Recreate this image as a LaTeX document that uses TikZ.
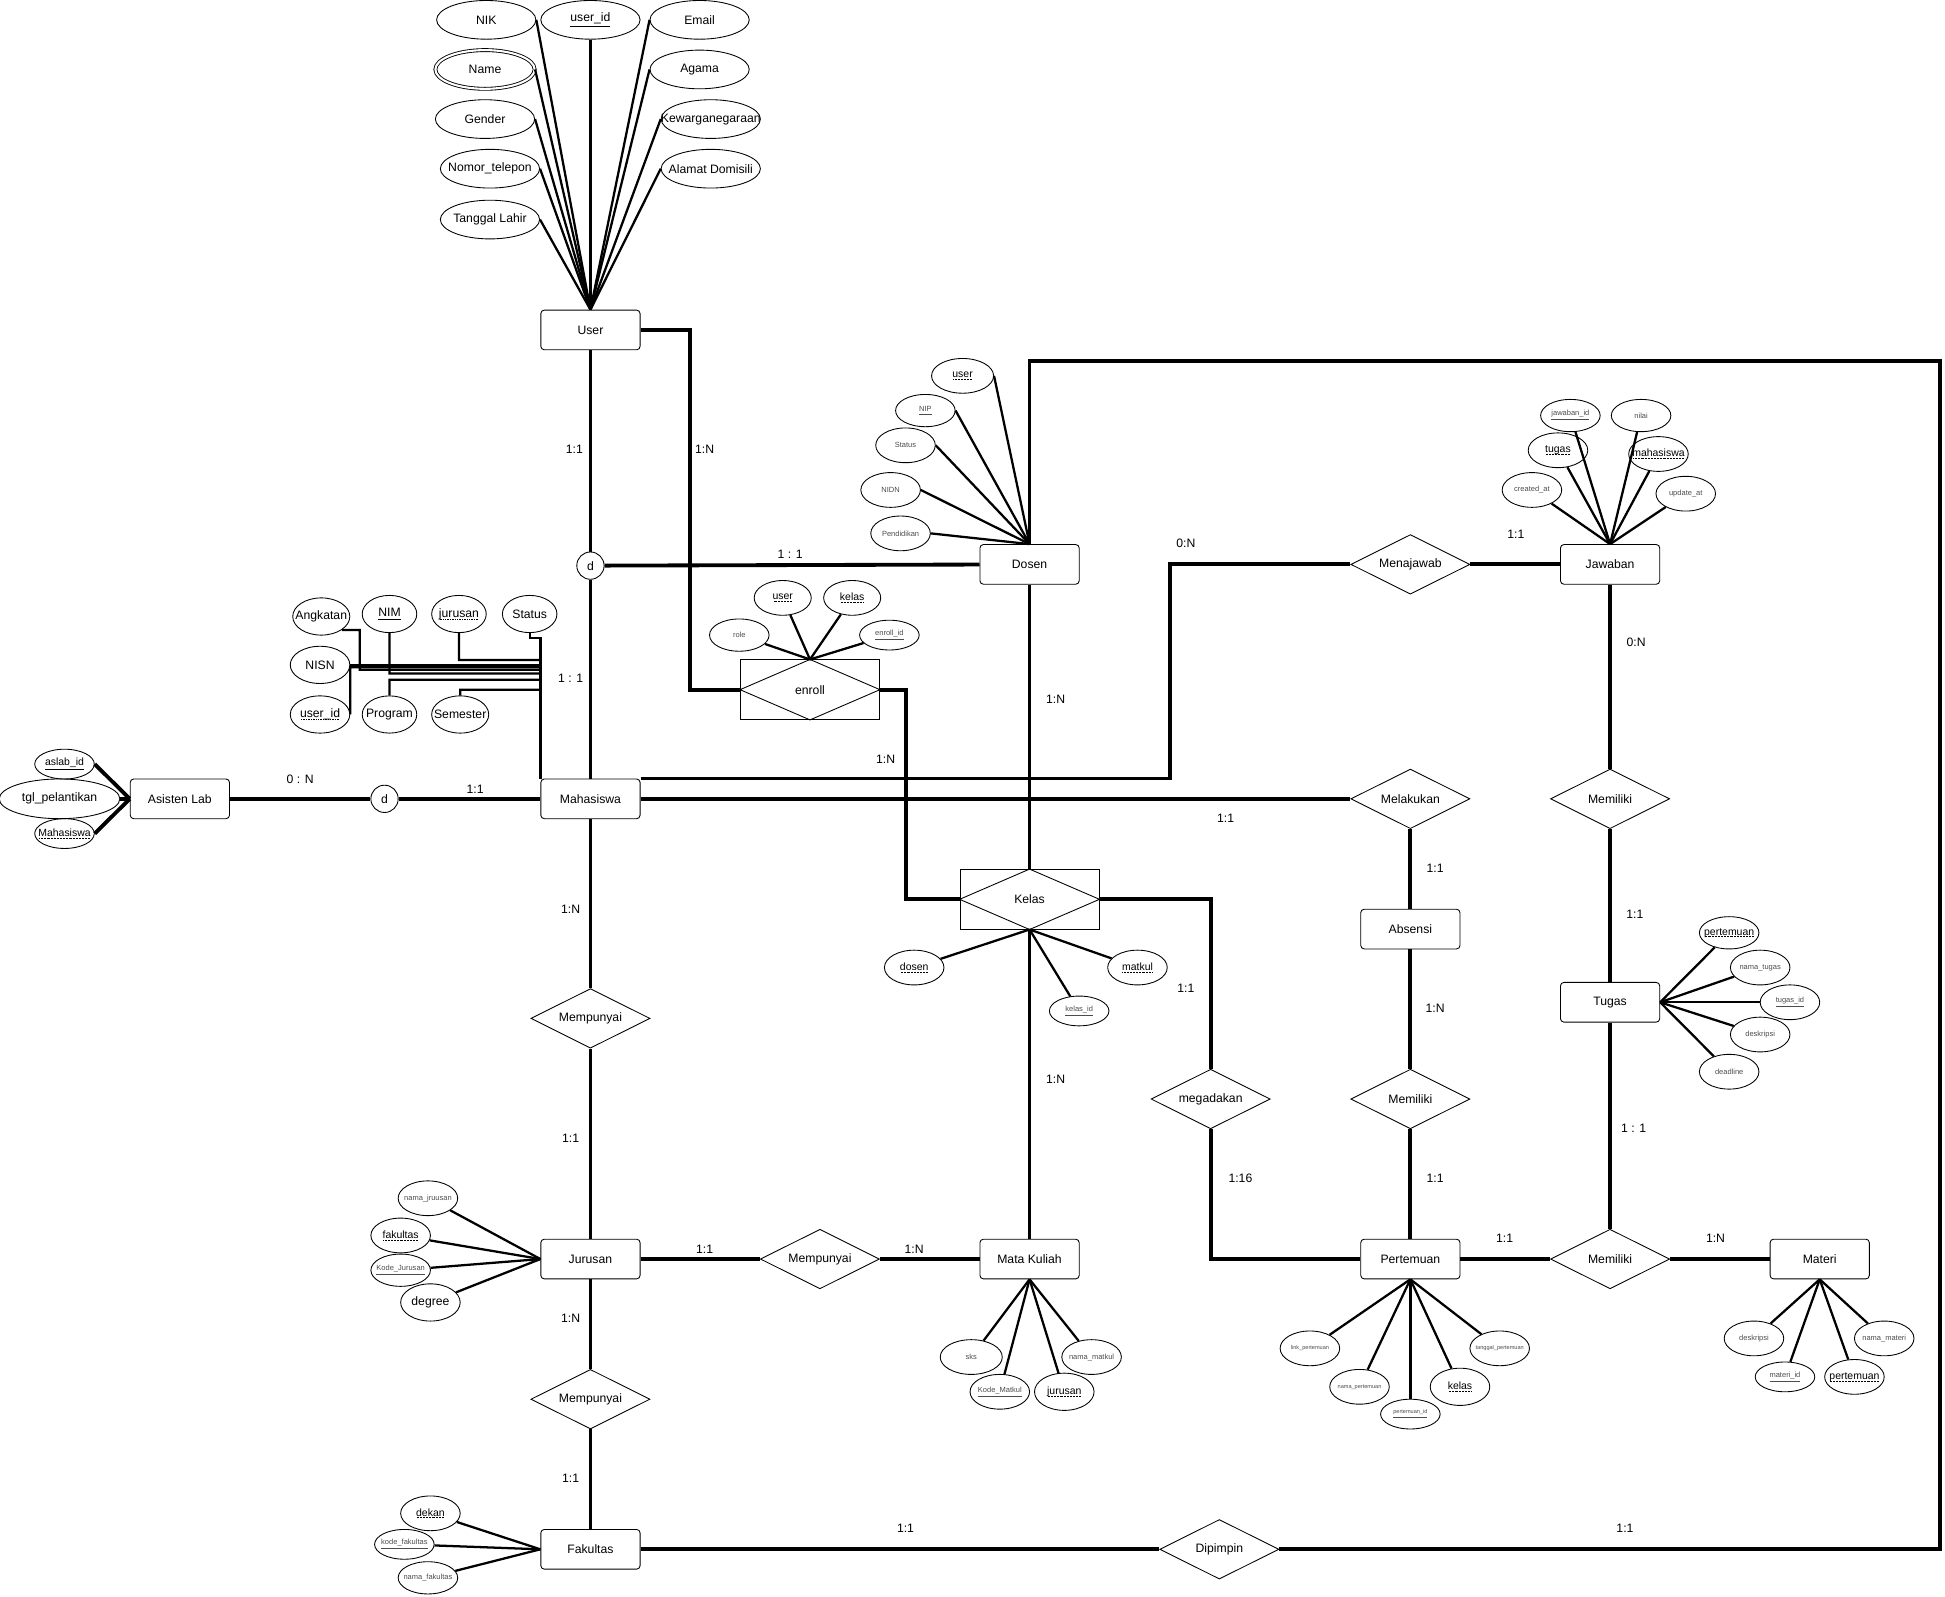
\documentclass[tikz,border=0pt]{standalone}
\usepackage{fontspec}
\setmainfont{Liberation Sans}
\usetikzlibrary{shapes.geometric,positioning}

\newcommand{\ernorm}{\fontsize{7}{8.4}\selectfont}
\newcommand{\ermid}{\fontsize{6}{7}\selectfont}
\newcommand{\ersmall}{\fontsize{4.3}{5}\selectfont}
\newcommand{\ertiny}{\fontsize{3.2}{4}\selectfont}
\newsavebox{\fkbox}
\newcommand{\pk}[1]{\underline{#1}}
\newcommand{\fk}[1]{\sbox{\fkbox}{#1}\leavevmode\rlap{\lower0.2em\hbox to \wd\fkbox{\cleaders\hbox to 0.14em{\hss\vrule width 0.07em height 0.07em\hss}\hfill}}\usebox{\fkbox}}

\begin{document}
\begin{tikzpicture}[
  x=0.025cm, y=-0.025cm,
  entity/.style={draw, rounded corners=2pt, minimum width=2cm, minimum height=0.8cm, font=\ernorm, line width=0.5pt},
  rel/.style={diamond, draw, minimum width=2.4cm, minimum height=1.2cm, inner sep=0pt, font=\ernorm, line width=0.5pt,
    execute at begin node={\hbox to 0pt\bgroup\hss}, execute at end node={\hss\egroup}},
  assoc/.style={draw, minimum width=2.8cm, minimum height=1.2cm, font=\ernorm, line width=0.5pt},
  attr/.style={ellipse, draw, inner sep=0pt, minimum width=1.2cm, minimum height=0.7cm, font=\ermid, line width=0.5pt,
    execute at begin node={\hbox to 0pt\bgroup\hss}, execute at end node={\hss\egroup}},
  bigattr/.style={attr, minimum width=2cm, minimum height=0.78cm, font=\ernorm},
  mattr/.style={attr, minimum width=1.15cm, minimum height=0.75cm, font=\ernorm},
  smallattr/.style={attr, font=\ersmall, text=black!70},
  tinyattr/.style={attr, font=\ertiny, text=black!70},
  disj/.style={circle, draw, minimum size=0.55cm, inner sep=0pt, font=\ernorm, line width=0.5pt},
  lbl/.style={font=\ernorm, inner sep=1pt},
  conn/.style={line width=2.2pt},
  aline/.style={line width=1.3pt}
]
  \useasboundingbox (0,0) rectangle (1568,1287);

  % entities
  \node[entity] (user) at (476,266) {User};
  \node[entity] (dosen) at (830,455) {Dosen};
  \node[entity] (mhs) at (476,644) {Mahasiswa};
  \node[entity] (aslab) at (145,644) {Asisten Lab};
  \node[entity] (jaw) at (1298,455) {Jawaban};
  \node[entity] (absensi) at (1137,749) {Absensi};
  \node[entity] (tugas) at (1298,808) {Tugas};
  \node[entity] (jur) at (476,1015) {Jurusan};
  \node[entity] (mk) at (830,1015) {Mata Kuliah};
  \node[entity] (pert) at (1137,1015) {Pertemuan};
  \node[entity] (materi) at (1467,1015) {Materi};
  \node[entity] (fak) at (476,1249) {Fakultas};

  % associative entities
  \node[assoc] (enroll) at (653,556) {enroll};
  \draw[line width=0.5pt] (enroll.west) -- (enroll.north) -- (enroll.east) -- (enroll.south) -- cycle;
  \node[assoc] (kelas) at (830,725) {Kelas};
  \draw[line width=0.5pt] (kelas.west) -- (kelas.north) -- (kelas.east) -- (kelas.south) -- cycle;

  % relationships
  \node[rel] (menj) at (1137,455) {Menajawab};
  \node[rel] (melak) at (1137,644) {Melakukan};
  \node[rel] (mem1) at (1298,644) {Memiliki};
  \node[rel] (mp1) at (476,821) {Mempunyai};
  \node[rel] (mega) at (976,886) {megadakan};
  \node[rel] (mem2) at (1137,886) {Memiliki};
  \node[rel] (mp2) at (661,1015) {Mempunyai};
  \node[rel] (mem3) at (1298,1015) {Memiliki};
  \node[rel] (mp3) at (476,1128) {Mempunyai};
  \node[rel] (dip) at (983,1249) {Dipimpin};
  \node[disj] (d1) at (476,456) {d};
  \node[disj] (d2) at (310,644) {d};

  % user attributes
  \node[bigattr] (nik) at (392,16) {NIK};
  \node[bigattr] (uid) at (476,16) {\pk{user\_id}};
  \node[bigattr] (email) at (564,16) {Email};
  \node[bigattr, double, double distance=1.2pt] (name) at (391,56) {Name};
  \node[bigattr] (agama) at (564,56) {Agama};
  \node[bigattr] (gender) at (391,96) {Gender};
  \node[bigattr] (kwn) at (573,96) {Kewarganegaraan};
  \node[bigattr] (telp) at (395,136) {Nomor\_telepon};
  \node[bigattr] (alamat) at (573,136) {Alamat Domisili};
  \node[bigattr] (tgllahir) at (395,177) {Tanggal Lahir};
  \foreach \a in {nik,name,gender,telp,tgllahir} \draw[aline] (\a.east) -- (user.north);
  \foreach \a in {email,agama,kwn,alamat} \draw[aline] (\a.west) -- (user.north);
  \draw[aline] (uid.south) -- (user.north);

  % mahasiswa attributes
  \node[mattr] (angk) at (259,497) {Angkatan};
  \node[mattr, minimum width=1.1cm] (nim) at (314,495) {\pk{NIM}};
  \node[mattr, minimum width=1.1cm] (mjur) at (370,495) {\fk{jurusan}};
  \node[mattr, minimum width=1.1cm] (mstat) at (427,495) {Status};
  \node[mattr, minimum width=1.2cm] (nisn) at (258,536) {NISN};
  \node[mattr, minimum width=1.2cm] (muid) at (258,576) {\fk{user\_id}};
  \node[mattr, minimum width=1.1cm] (prog) at (314,576) {Program};
  \node[mattr] (sem) at (371,576) {Semester};
  \coordinate (mcorner) at (mhs.north west);
  \draw[aline] (angk.south east) -| (290,540) -- (436,540) -- (mcorner);
  \draw[aline] (nim.south) |- (436,543) -- (mcorner);
  \draw[aline] (mjur.south) |- (436,532) -- (mcorner);
  \draw[aline] (mstat.south) -- ++(0,4) -| (mcorner);
  \draw[aline] (nisn.east) -| (mcorner);
  \draw[aline] (muid.east) |- (436,538) -- (mcorner);
  \draw[aline] (prog.north) |- (436,548) -- (mcorner);
  \draw[aline] (sem.north) |- (436,556) -- (mcorner);

  % asisten lab attributes
  \node[attr, minimum height=0.6cm] (aslabid) at (52,616) {\pk{aslab\_id}};
  \node[attr, minimum width=2.43cm, minimum height=0.8cm, font=\ernorm] (tglpel) at (48,644) {tgl\_pelantikan};
  \node[attr, minimum height=0.6cm] (amhs) at (52,672) {\fk{Mahasiswa}};
  \foreach \a in {aslabid,tglpel,amhs} \draw[conn] (\a.east) -- (aslab.west);

  % dosen attributes
  \node[attr, minimum width=1.25cm] (duser) at (776,303) {\fk{user}};
  \node[smallattr, minimum height=0.65cm] (nip) at (746,331) {\pk{NIP}};
  \node[smallattr] (dstat) at (730,359) {Status};
  \node[smallattr] (nidn) at (718,395) {NIDN};
  \node[smallattr] (pend) at (726,430) {Pendidikan};
  \foreach \a in {duser,nip,dstat,nidn,pend} \draw[aline] (\a.east) -- (dosen.north);

  % enroll attributes
  \node[attr, minimum width=1.15cm] (euser) at (631,482) {\fk{user}};
  \node[attr, minimum width=1.15cm] (ekelas) at (687,482) {\fk{kelas}};
  \node[smallattr, minimum height=0.65cm] (erole) at (596,512) {role};
  \node[smallattr, minimum height=0.6cm] (eid) at (717,512) {\pk{enroll\_id}};
  \foreach \a in {euser,ekelas,erole,eid} \draw[aline] (enroll.north) -- (\a);

  % jawaban attributes
  \node[smallattr, minimum height=0.65cm] (jid) at (1266,335) {\pk{jawaban\_id}};
  \node[smallattr, minimum height=0.65cm] (nilai) at (1323,335) {nilai};
  \node[attr] (jtugas) at (1256,363) {\fk{tugas}};
  \node[attr] (jmhs) at (1337,366) {\fk{mahasiswa}};
  \node[smallattr] (created) at (1235,395) {created\_at};
  \node[smallattr] (update) at (1359,398) {update\_at};
  \foreach \a in {jid,nilai,jtugas,jmhs,created,update} \draw[aline] (jaw.north) -- (\a);

  % kelas attributes
  \node[attr] (kdosen) at (737,780) {\fk{dosen}};
  \node[attr] (kmatkul) at (917,780) {\fk{matkul}};
  \node[smallattr, minimum height=0.6cm] (kid) at (870,815) {\pk{kelas\_id}};
  \foreach \a in {kdosen,kmatkul,kid} \draw[aline] (kelas.south) -- (\a);

  % tugas attributes
  \node[attr, minimum height=0.65cm] (tpert) at (1394,752) {\fk{pertemuan}};
  \node[smallattr] (tnama) at (1419,780) {nama\_tugas};
  \node[smallattr] (tid) at (1443,808) {\pk{tugas\_id}};
  \node[smallattr] (tdesk) at (1419,834) {deskripsi};
  \node[smallattr] (tdead) at (1394,864) {deadline};
  \foreach \a in {tpert,tnama,tid,tdesk,tdead} \draw[aline] (tugas.east) -- (\a);

  % jurusan attributes
  \node[smallattr] (jnama) at (345,966) {nama\_jruusan};
  \node[attr] (jfak) at (323,996) {\fk{fakultas}};
  \node[smallattr, minimum height=0.65cm] (jkode) at (323,1024) {\pk{Kode\_Jurusan}};
  \node[attr, minimum height=0.75cm, font=\ernorm] (degree) at (347,1050) {degree};
  \foreach \a in {jnama,jfak,jkode,degree} \draw[aline] (jur.west) -- (\a);

  % mata kuliah attributes
  \node[smallattr, minimum width=1.25cm] (sks) at (783,1094) {sks};
  \node[smallattr] (kmk) at (806,1122) {\pk{Kode\_Matkul}};
  \node[attr, minimum height=0.75cm] (mkjur) at (858,1122) {\fk{jurusan}};
  \node[smallattr] (nmk) at (880,1094) {nama\_matkul};
  \foreach \a in {sks,kmk,mkjur,nmk} \draw[aline] (mk.south) -- (\a);

  % pertemuan attributes
  \node[tinyattr] (link) at (1056,1087) {link\_pertemuan};
  \node[tinyattr] (pnama) at (1096,1118) {nama\_pertemuan};
  \node[tinyattr, minimum height=0.6cm] (pid) at (1137,1140) {\pk{pertemuan\_id}};
  \node[attr, minimum height=0.75cm] (pkelas) at (1177,1118) {\fk{kelas}};
  \node[tinyattr] (ptgl) at (1209,1087) {tanggal\_pertemuan};
  \foreach \a in {link,pnama,pid,pkelas,ptgl} \draw[aline] (pert.south) -- (\a);

  % materi attributes
  \node[smallattr] (mdesk) at (1414,1079) {deskripsi};
  \node[smallattr, minimum height=0.6cm] (mid) at (1439,1110) {\pk{materi\_id}};
  \node[attr] (mpert) at (1495,1110) {\fk{pertemuan}};
  \node[smallattr] (mnama) at (1519,1079) {nama\_materi};
  \foreach \a in {mdesk,mid,mpert,mnama} \draw[aline] (materi.south) -- (\a);

  % fakultas attributes
  \node[attr] (dekan) at (347,1220) {\fk{dekan}};
  \node[smallattr, minimum height=0.6cm] (fkode) at (326,1245) {\pk{kode\_fakultas}};
  \node[smallattr, minimum height=0.65cm] (fnama) at (345,1272) {nama\_fakultas};
  \foreach \a in {dekan,fkode,fnama} \draw[aline] (fak.west) -- (\a);

  % connectors
  \draw[conn] (user) -- (d1);
  \draw[conn] (d1) -- (mhs);
  \draw[conn] (d1) -- (dosen);
  \draw[conn] (user.east) -- ++(40,0) |- (enroll.west);
  \draw[conn] (enroll.east) -- ++(21,0) |- (kelas.west);
  \draw[conn] (dosen) -- (kelas);
  \draw[conn] (kelas) -- (mk);
  \draw[conn] (kelas.east) -| (mega.north);
  \draw[conn] (mega.south) |- (pert.west);
  \draw[conn] (mhs.north east) -- ++(427,0) |- (menj.west);
  \draw[conn] (mhs) -- (melak);
  \draw[conn] (menj) -- (jaw);
  \draw[conn] (jaw) -- (mem1);
  \draw[conn] (mem1) -- (tugas);
  \draw[conn] (tugas) -- (mem3);
  \draw[conn] (pert) -- (mem3);
  \draw[conn] (mem3) -- (materi);
  \draw[conn] (melak) -- (absensi);
  \draw[conn] (absensi) -- (mem2);
  \draw[conn] (mem2) -- (pert);
  \draw[conn] (mhs) -- (mp1);
  \draw[conn] (mp1) -- (jur);
  \draw[conn] (jur) -- (mp2);
  \draw[conn] (mp2) -- (mk);
  \draw[conn] (jur) -- (mp3);
  \draw[conn] (mp3) -- (fak);
  \draw[conn] (fak) -- (dip);
  \coordinate (frame) at (1564,291);
  \draw[conn] (dip.east) -| (frame) -| (dosen.north);
  \draw[conn] (aslab) -- (d2);
  \draw[conn] (d2) -- (mhs);

  % cardinalities
  \node[lbl] (c1) at (463,362) {1:1};
  \node[lbl] (c2) at (568,362) {1:N};
  \node[lbl] (c3) at (637,447) {1 : 1};
  \node[lbl] (c4) at (956,438) {0:N};
  \node[lbl] (c5) at (1222,431) {1:1};
  \node[lbl] (c6) at (460,547) {1 : 1};
  \node[lbl] (c7) at (242,628) {0 : N};
  \node[lbl] (c8) at (383,636) {1:1};
  \node[lbl] (c9) at (851,564) {1:N};
  \node[lbl] (c10) at (714,612) {1:N};
  \node[lbl] (c11) at (988,660) {1:1};
  \node[lbl] (c12) at (1319,518) {0:N};
  \node[lbl] (c13) at (1157,700) {1:1};
  \node[lbl] (c14) at (1318,737) {1:1};
  \node[lbl] (c15) at (460,733) {1:N};
  \node[lbl] (c16) at (956,797) {1:1};
  \node[lbl] (c17) at (1157,813) {1:N};
  \node[lbl] (c18) at (851,870) {1:N};
  \node[lbl] (c19) at (460,918) {1:1};
  \node[lbl] (c20) at (1317,910) {1 : 1};
  \node[lbl] (c21) at (1000,950) {1:16};
  \node[lbl] (c22) at (1157,950) {1:1};
  \node[lbl] (c23) at (568,1007) {1:1};
  \node[lbl] (c24) at (737,1007) {1:N};
  \node[lbl] (c25) at (1213,998) {1:1};
  \node[lbl] (c26) at (1383,998) {1:N};
  \node[lbl] (c27) at (460,1063) {1:N};
  \node[lbl] (c28) at (460,1192) {1:1};
  \node[lbl] (c29) at (730,1232) {1:1};
  \node[lbl] (c30) at (1310,1232) {1:1};
\end{tikzpicture}
\end{document}
